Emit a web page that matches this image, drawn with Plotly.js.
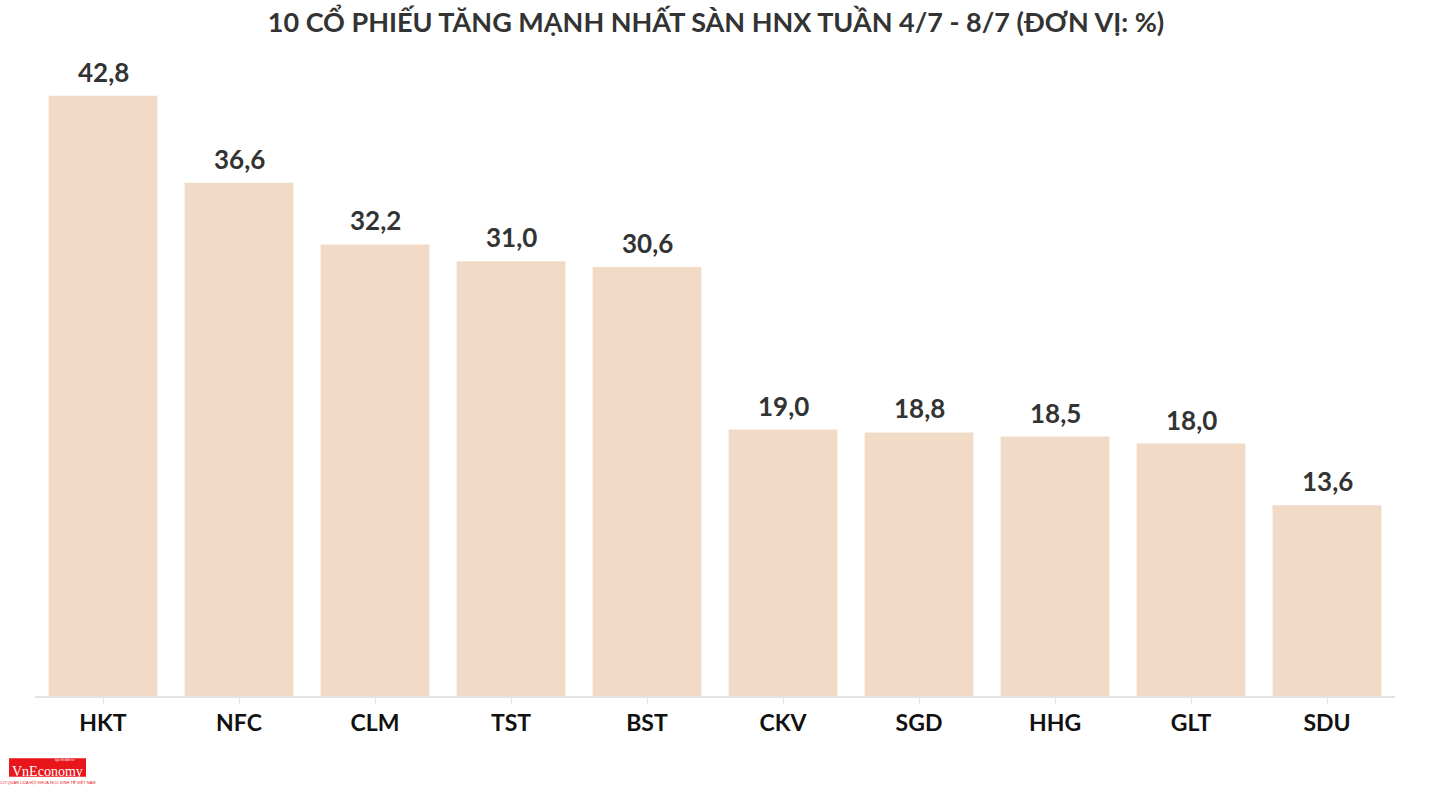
<!DOCTYPE html>
<html>
<head>
<meta charset="utf-8">
<script src="https://cdn.plot.ly/plotly-3.0.1.min.js"></script>
<style>html,body{margin:0;padding:0;background:#fff;}#chart{width:1432px;height:799px;}</style>
</head>
<body>
<div id="chart"></div>
<script>
const categories = ["HKT","NFC","CLM","TST","BST","CKV","SGD","HHG","GLT","SDU"];
const values = [42.8, 36.6, 32.2, 31.0, 30.6, 19.0, 18.8, 18.5, 18.0, 13.6];
const titleText = "10 CỔ PHIẾU TĂNG MẠNH NHẤT SÀN HNX TUẦN 4/7 - 8/7 (ĐƠN VỊ: %)";

const FONT = "Lato, 'Open Sans', sans-serif";

const trace = {
  type: "bar",
  x: categories,
  y: values,
  marker: {color: "#F2DBC6"},
  cliponaxis: false,
  hoverinfo: "skip"
};

const valueLabels = categories.map((c, i) => ({
  x: c, y: values[i], xref: "x", yref: "y",
  text: values[i].toFixed(1).replace(".", ","),
  showarrow: false, xanchor: "center", yanchor: "bottom", yshift: 6,
  font: {family: FONT, size: 26, color: "#333333", weight: 700}
}));

const layout = {
  width: 1432, height: 799,
  margin: {l: 35, r: 37, t: 65, b: 103},
  paper_bgcolor: "#ffffff", plot_bgcolor: "#ffffff",
  separators: ",.",
  bargap: 0.2,
  showlegend: false,
  title: {
    text: titleText,
    font: {family: FONT, size: 27, color: "#333333", weight: 700},
    x: 0.5, xanchor: "center", y: 0.972, yanchor: "middle"
  },
  xaxis: {
    type: "category",
    showline: true, linecolor: "#e3e3e3", linewidth: 1.5,
    ticks: "outside", ticklen: 6, tickcolor: "#e3e3e3", tickwidth: 1,
    tickfont: {family: FONT, size: 23, color: "#111111", weight: 700},
    showgrid: false, zeroline: false
  },
  yaxis: {
    range: [0, 45],
    visible: false, showgrid: false, zeroline: false
  },
  shapes: [
    {type: "rect", xref: "paper", yref: "paper", x0: -0.0191, x1: 0.0375, y0: -0.128, y1: -0.0985,
     fillcolor: "#e8161b", line: {width: 0}}
  ],
  annotations: valueLabels.concat([
    {text: "VnEconomy", xref: "paper", yref: "paper", x: 0.0092, y: -0.119, xanchor: "center", yanchor: "middle",
     showarrow: false, font: {family: "'Liberation Serif', serif", size: 14, color: "#ffffff"}},
    {text: "tạp chí điện tử", xref: "paper", yref: "paper", x: 0.030, y: -0.102, xanchor: "right", yanchor: "middle",
     showarrow: false, font: {family: "'Liberation Sans', sans-serif", size: 3, color: "#ffffff"}},
    {text: "CƠ QUAN CỦA HỘI KHOA HỌC KINH TẾ VIỆT NAM", xref: "paper", yref: "paper", x: 0.0092, y: -0.137,
     xanchor: "center", yanchor: "middle", showarrow: false,
     font: {family: "'Liberation Sans', sans-serif", size: 4, color: "#e8161b"}}
  ])
};

Plotly.newPlot("chart", [trace], layout, {displayModeBar: false, staticPlot: true});
</script>
</body>
</html>
